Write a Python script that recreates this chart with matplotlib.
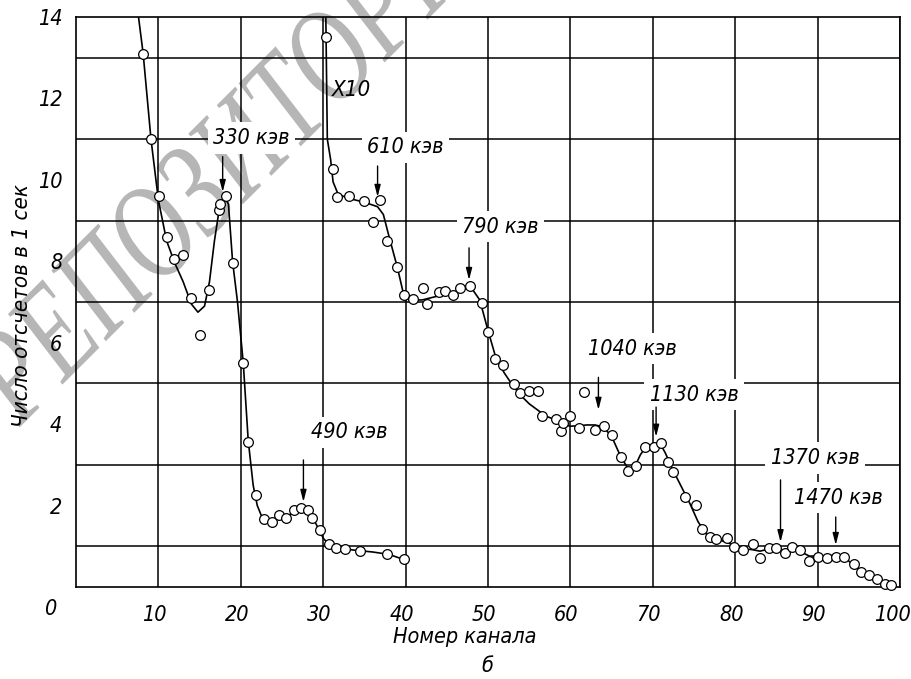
import matplotlib
matplotlib.use("Agg")
import matplotlib.pyplot as plt
import matplotlib.transforms as mtransforms
from matplotlib.textpath import TextPath
from matplotlib.patches import PathPatch
from matplotlib.font_manager import FontProperties

# измеренные точки (первая кривая)
ch1 = [8.15, 9.1, 10.1, 11.1, 11.9, 13.0, 13.9, 15.0, 16.1, 17.3, 17.5, 18.2, 19.0,
       20.3, 20.9, 21.8, 22.8, 23.8, 24.6, 25.5, 26.4, 27.3, 28.1, 28.7, 29.6,
       30.7, 31.6, 32.6, 34.5, 37.8, 39.8]
cnt1 = [13.1, 11.0, 9.6, 8.6, 8.05, 8.15, 7.1, 6.2, 7.3, 9.25, 9.4, 9.6, 7.95,
        5.5, 3.55, 2.25, 1.67, 1.6, 1.77, 1.7, 1.89, 1.94, 1.89, 1.69, 1.4,
        1.06, 0.96, 0.93, 0.88, 0.81, 0.69]

# сглаженная кривая 1
fit1_x = [7.4, 8.15, 9.1, 10.0, 11.0, 12.0, 13.0, 14.0, 14.8, 15.6, 16.2, 16.8, 17.4,
          18.0, 18.5, 19.0, 19.6, 20.3, 20.9, 21.5, 22.0, 22.6, 23.5, 24.5, 25.5,
          26.5, 27.5, 28.2, 29.0, 30.0, 30.8, 32.0, 34.0, 36.0, 38.0, 40.0]
fit1_y = [14.3, 13.1, 11.0, 9.5, 8.5, 7.95, 7.5, 6.95, 6.75, 6.9, 7.5, 8.5, 9.3,
          9.6, 9.4, 8.0, 7.0, 5.5, 3.6, 2.5, 2.0, 1.7, 1.6, 1.68, 1.72,
          1.85, 1.93, 1.88, 1.6, 1.2, 1.02, 0.95, 0.9, 0.86, 0.8, 0.66]

# измеренные точки (вторая кривая, x10)
ch2 = [30.3, 31.2, 31.7, 33.1, 35.0, 36.0, 36.9, 37.7, 38.9, 39.8, 40.9, 42.1, 42.6,
       44.0, 44.8, 45.7, 46.6, 47.8, 49.3, 50.0, 50.9, 51.8, 53.1, 53.9, 55.0, 56.1,
       56.6, 58.3, 58.9, 59.1, 60.0, 61.0, 61.6, 63.0, 64.1, 65.0, 66.2, 67.0, 68.0,
       69.0, 70.1, 71.0, 71.8, 72.5, 73.9, 75.3, 76.0, 76.9, 77.7, 79.0, 79.9, 81.0,
       82.2, 83.0, 84.1, 85.0, 86.0, 86.9, 87.9, 88.9, 90.1, 91.1, 92.2, 93.2, 94.4,
       95.3, 96.2, 97.2, 98.2, 98.9]
cnt2 = [13.5, 10.27, 9.58, 9.6, 9.48, 8.96, 9.5, 8.5, 7.87, 7.16, 7.08, 7.35, 6.95,
        7.25, 7.27, 7.16, 7.35, 7.4, 6.98, 6.26, 5.6, 5.45, 4.98, 4.76, 4.82, 4.82,
        4.2, 4.13, 3.83, 4.03, 4.2, 3.91, 4.79, 3.86, 3.96, 3.73, 3.19, 2.85, 2.97,
        3.44, 3.44, 3.54, 3.07, 2.83, 2.21, 2.01, 1.43, 1.23, 1.18, 1.2, 0.98, 0.91,
        1.06, 0.71, 0.96, 0.96, 0.84, 0.98, 0.91, 0.64, 0.74, 0.71, 0.74, 0.74, 0.57,
        0.37, 0.29, 0.2, 0.07, 0.04]

# сглаженная кривая 2
fit2_x = [30.3, 30.5, 30.9, 31.2, 31.8, 33.0, 35.0, 36.6, 37.3, 38.0, 39.0, 39.8, 40.5,
          42.0, 44.0, 46.0, 47.8, 49.0, 50.0, 51.0, 52.0, 53.0, 54.0, 55.0, 56.0,
          57.0, 58.0, 59.0, 60.0, 61.0, 62.0, 63.0, 64.0, 65.0, 66.0, 67.0, 67.8,
          68.5, 69.2, 70.0, 70.8, 71.5, 72.5, 73.5, 74.5, 75.5, 76.5, 77.5, 79.0,
          80.0, 81.0, 82.0, 83.0, 84.0, 85.0, 86.0, 87.0, 88.0, 89.0, 90.0, 91.0,
          92.0, 93.0, 94.0, 95.0, 96.0, 97.0, 98.0, 99.0]
fit2_y = [14.3, 11.0, 10.5, 9.95, 9.65, 9.55, 9.45, 9.34, 9.15, 8.6, 7.85, 7.15, 7.05,
          7.05, 7.15, 7.25, 7.4, 7.05, 6.3, 5.6, 5.25, 4.95, 4.7, 4.5, 4.35,
          4.2, 4.12, 4.0, 3.95, 3.96, 3.98, 3.98, 3.93, 3.7, 3.25, 2.9, 2.95,
          3.25, 3.45, 3.5, 3.55, 3.3, 2.85, 2.45, 2.05, 1.6, 1.3, 1.18, 1.1,
          1.0, 0.93, 0.92, 0.88, 0.93, 0.95, 0.9, 0.93, 0.86, 0.76, 0.76, 0.76,
          0.78, 0.77, 0.6, 0.43, 0.3, 0.2, 0.08, 0.02]

# подписи линий: текст, x, y текста, x стрелки, начало и конец стрелки
peak_labels = ["330 кэв", "610 кэв", "790 кэв", "490 кэв",
               "1040 кэв", "1130 кэв", "1370 кэв", "1470 кэв"]
label_x = [21.3, 40.0, 51.5, 33.2, 67.5, 75.0, 89.7, 92.5]
label_y = [11.03, 10.8, 8.85, 3.8, 5.85, 4.72, 3.17, 2.19]
arrow_x = [17.8, 36.6, 47.7, 27.6, 63.4, 70.4, 85.5, 92.2]
arrow_y0 = [10.57, 10.34, 8.33, 3.12, 5.15, 4.42, 2.63, 1.72]
arrow_y1 = [9.7, 9.58, 7.54, 2.09, 4.35, 3.69, 1.1, 1.03]

plt.rcParams["font.family"] = ["DejaVu Sans"]
plt.rcParams["font.style"] = "italic"
plt.rcParams["font.stretch"] = "condensed"

fig = plt.figure(figsize=(9.12, 6.79), dpi=100)
ax = fig.add_axes([76 / 912, 1 - 587 / 679, 824 / 912, 570 / 679])
ax.set_xlim(0, 100)
ax.set_ylim(0, 14)

# водяной знак (вытянутые буквы, под 45 градусов)
wm = TextPath((0, 0), "РЕПОЗИТОРИЙ", size=1.0,
              prop=FontProperties(family="Liberation Serif"))
wm_tr = (mtransforms.Affine2D().scale(1.0, 1.35).rotate_deg(45)
         .translate(20 / 100, 252 / 100) + fig.dpi_scale_trans)
fig.add_artist(PathPatch(wm, transform=wm_tr, facecolor="#b6b6b6",
                         edgecolor="none", zorder=-1))

ax.set_xticks(range(10, 101, 10))
ax.set_yticks(range(2, 15, 2))
ax.set_yticks(range(1, 15), minor=True)
ax.grid(True, which="major", axis="x", color="k", lw=1.1)
ax.grid(True, which="minor", axis="y", color="k", lw=1.1)
ax.tick_params(which="both", length=0, labelsize=15.5)
ax.tick_params(axis="x", pad=13)
ax.tick_params(axis="y", pad=10)
shift = mtransforms.ScaledTranslation(-4 / 100, 0, fig.dpi_scale_trans)
for i, lab in enumerate(ax.get_xticklabels()):
    lab.set_transform(lab.get_transform() + shift)
    if i == 9:
        lab.set_transform(lab.get_transform() + shift)
for s in ax.spines.values():
    s.set_linewidth(1.2)
ax.set_facecolor("none")
ax.set_axisbelow(True)

ax.plot(fit1_x, fit1_y, color="k", lw=1.2, zorder=4)
ax.plot(fit2_x, fit2_y, color="k", lw=1.2, zorder=4)
ax.plot(ch1, cnt1, "o", ms=7, mfc="white", mec="k", mew=0.9, zorder=5)
ax.plot(ch2, cnt2, "o", ms=7, mfc="white", mec="k", mew=0.9, zorder=5, clip_on=False)

for t, lx, ly, axx, y0, y1 in zip(peak_labels, label_x, label_y, arrow_x, arrow_y0, arrow_y1):
    ax.text(lx, ly, t, fontsize=15.5, ha="center", va="center", zorder=3,
            bbox=dict(facecolor="white", edgecolor="none", pad=4))
    ax.annotate("", xy=(axx, y1), xytext=(axx, y0), zorder=6,
                arrowprops=dict(arrowstyle="-|>,head_width=0.18,head_length=0.7",
                                color="k", lw=1.0, shrinkA=0, shrinkB=0))

ax.text(31.1, 12.2, "X10", fontsize=16, ha="left", va="center", zorder=6)

fig.text(50 / 912, 1 - 609 / 679, "0", fontsize=15.5, ha="center", va="center")
fig.text(465 / 912, 1 - 637 / 679, "Номер канала", fontsize=15.5, ha="center", va="center")
fig.text(487 / 912, 1 - 666 / 679, "б", fontsize=15.5, ha="center", va="center")
fig.text(22 / 912, 1 - 306 / 679, "Число отсчетов в 1 сек", fontsize=16,
         rotation=90, ha="center", va="center")

fig.savefig("out.png", dpi=100)
